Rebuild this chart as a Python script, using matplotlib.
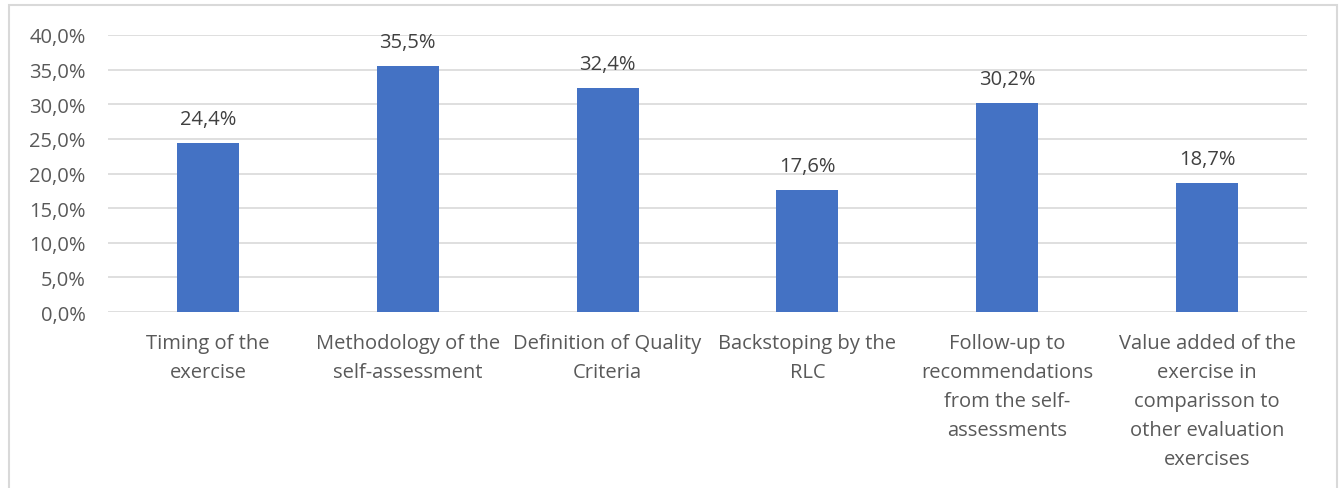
import matplotlib.pyplot as plt
from matplotlib.ticker import FuncFormatter
from matplotlib.patches import Rectangle

# Data
categories = [
    "Timing of the\nexercise",
    "Methodology of the\nself-assessment",
    "Definition of Quality\nCriteria",
    "Backstoping by the\nRLC",
    "Follow-up to\nrecommendations\nfrom the self-\nassessments",
    "Value added of the\nexercise in\ncomparisson to\nother evaluation\nexercises",
]
values = [24.4, 35.5, 32.4, 17.6, 30.2, 18.7]

plt.rcParams['font.family'] = ['Open Sans', 'DejaVu Sans']
text_color = '#595959'

fig = plt.figure(figsize=(13.4, 4.89), dpi=100)
ax = fig.add_axes([108 / 1340, 1 - 313 / 489, 1199 / 1340, 277 / 489])

# light border around the chart
fig.patches.append(Rectangle((9 / 1340, -0.05), 1328 / 1340, 1.05 - 6 / 489,
                             transform=fig.transFigure, fill=False,
                             edgecolor='#d9d9d9', linewidth=1.5))

x = range(len(categories))
ax.bar(x, values, width=0.31, color='#4472C4', zorder=3)

for xi, v in zip(x, values):
    ax.annotate(f"{v:.1f}%".replace('.', ','), (xi, v), xytext=(0, 10),
                textcoords='offset points', ha='center', va='bottom',
                fontsize=14.5, color='#404040')

ax.set_ylim(0, 40)
ax.set_xlim(-0.5, len(categories) - 0.5)
ax.set_yticks([0, 5, 10, 15, 20, 25, 30, 35, 40])
ax.yaxis.set_major_formatter(FuncFormatter(lambda v, p: f"{v:.1f}%".replace('.', ',')))
ax.set_xticks(list(x))
ax.set_xticklabels(categories, linespacing=1.6)

ax.grid(axis='y', color='#d9d9d9', linewidth=1.2, zorder=0)
for s in ax.spines.values():
    s.set_visible(False)
ax.tick_params(axis='both', length=0, labelsize=14.5, labelcolor=text_color)
ax.tick_params(axis='x', pad=15)
ax.tick_params(axis='y', pad=16)

fig.savefig('out.png', dpi=100)
